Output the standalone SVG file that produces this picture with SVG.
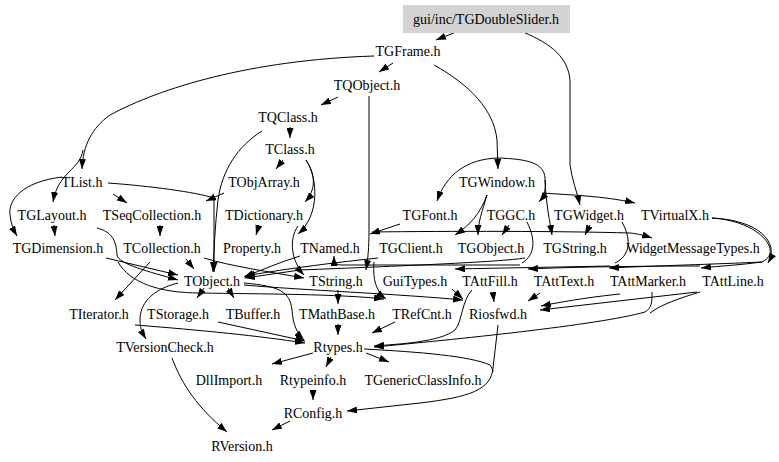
<svg xmlns="http://www.w3.org/2000/svg" width="779" height="462" viewBox="0 0 779 462">
<style>
.t text{font-family:'Liberation Serif','DejaVu Serif',serif;font-size:14px;text-anchor:middle;fill:#000}
.e{fill:none;stroke:#000;stroke-width:1}
.a{marker-end:url(#arr)}
</style>
<defs>
<marker id="arr" viewBox="0 0 10 7" refX="10" refY="3.5" markerWidth="10" markerHeight="7" markerUnits="userSpaceOnUse" orient="auto">
<path d="M0,0 L10,3.5 L0,7 Z" fill="#000"/>
</marker>
</defs>
<rect width="779" height="462" fill="#fff"/>
<g id="edges">
<path class="e a" d="M456,32 L436,40"/>
<path class="e a" d="M523,32 C552,44 568,58 570,80 L570,165 C572,180 577,192 580,205"/>
<path class="e a" d="M393,63 L379,72"/>
<path class="e a" d="M434,65 C470,85 494,110 497,140 L498,169"/>
<path class="e a" d="M498,158 C466,159 446,175 437,201"/>
<path class="e a" d="M498,158 C528,159 544,163 545,178 C546,190 545,195 539,202"/>
<path class="e a" d="M545,180 C546,205 550,222 552,235"/>
<path class="e a" d="M542,193 C570,195 605,196 635,203"/>
<path class="e a" d="M374,56 C250,60 160,88 110,115 C92,128 83,145 82,169"/>
<path class="e a" d="M83,150 C80,170 58,172 53,202"/>
<path class="e a" d="M62,177 C22,182 8,200 10,215 C11,224 13,229 17,236"/>
<path class="e a" d="M338,97 L321,105"/>
<path class="e a" d="M369,96 L369,230 C369,248 368,258 366,270"/>
<path class="e a" d="M290,127 L290,138"/>
<path class="e a" d="M262,131 C238,146 222,170 218,200 C215,225 214,250 213,272"/>
<path class="e a" d="M108,183 C150,186 195,192 214,198 L214,272"/>
<path class="e a" d="M113,194 L127,203"/>
<path class="e a" d="M224,193 L206,201"/>
<path class="e a" d="M283,160 L276,169"/>
<path class="e a" d="M306,160 C316,175 316,190 305,202"/>
<path class="e a" d="M306,160 C318,178 320,215 298,234"/>
<path class="e a" d="M298,226 C288,240 292,262 304,275"/>
<path class="e a" d="M259,225 L256,235"/>
<path class="e a" d="M54,225 L55,236"/>
<path class="e a" d="M160,225 L160,236"/>
<path class="e a" d="M97,228 C112,232 116,240 117,255 C118,264 150,272 178,280"/>
<path class="e a" d="M106,258 L178,275"/>
<path class="e a" d="M186,259 L194,269"/>
<path class="e a" d="M150,262 L115,300"/>
<path class="e a" d="M204,258 C230,266 270,272 304,278"/>
<path class="e a" d="M300,256 C280,262 262,270 244,277"/>
<path class="e a" d="M118,262 C130,283 160,293 200,293 C260,294 340,294 384,299"/>
<path class="e a" d="M204,288 L197,298"/>
<path class="e a" d="M228,288 L234,298"/>
<path class="e a" d="M178,283 C150,290 140,305 140,320 C140,330 143,334 146,339"/>
<path class="e a" d="M244,283 C280,286 290,292 292,310 C293,325 297,333 304,340"/>
<path class="e a" d="M244,285 C300,290 400,294 463,300"/>
<path class="e a" d="M338,290 L338,304"/>
<path class="e a" d="M135,325 C200,330 260,336 305,343"/>
<path class="e a" d="M218,322 L305,341"/>
<path class="e a" d="M338,324 L338,335"/>
<path class="e a" d="M395,322 L372,333"/>
<path class="e a" d="M472,290 C462,300 462,322 455,330 C440,342 400,344 374,346"/>
<path class="e a" d="M652,292 C652,302 652,308 645,312 C600,325 450,340 374,347"/>
<path class="e" d="M700,292 C680,298 660,305 650,313"/>
<path class="e a" d="M697,292 L540,310"/>
<path class="e a" d="M620,294 C600,296 570,300 541,306"/>
<path class="e a" d="M540,293 L528,301"/>
<path class="e a" d="M493,293 L494,302"/>
<path class="e a" d="M452,289 L463,299"/>
<path class="e a" d="M498,325 L493,368 C491,390 470,397 420,403 L347,411"/>
<path class="e" d="M364,349 C420,352 470,356 490,365 C492,368 493,370 493,372"/>
<path class="e a" d="M366,353 L389,362"/>
<path class="e a" d="M313,353 L272,364"/>
<path class="e a" d="M331,357 L326,367"/>
<path class="e a" d="M313,390 L313,400"/>
<path class="e a" d="M290,421 L272,430"/>
<path class="e a" d="M172,358 C182,385 198,408 227,432"/>
<path class="e a" d="M400,224 L370,234"/>
<path class="e a" d="M487,195 C480,214 470,225 455,235"/>
<path class="e a" d="M487,195 C482,212 478,222 478,235"/>
<path class="e a" d="M509,225 L502,235"/>
<path class="e a" d="M590,225 L585,235"/>
<path class="e a" d="M372,232 C450,231 560,231 630,233 C640,234 646,236 652,238"/>
<path class="e" d="M527,222 C536,240 535,255 522,263"/>
<path class="e" d="M622,222 C632,240 630,256 615,263"/>
<path class="e a" d="M712,218 C758,220 780,242 768,263"/>
<path class="e a" d="M712,218 C760,221 784,252 762,262 C740,265 720,266 701,268"/>
<path class="e a" d="M762,262 C720,264 650,266 609,268"/>
<path class="e a" d="M700,266 C640,266 570,267 528,269"/>
<path class="e a" d="M610,266 C560,267 500,268 455,269"/>
<path class="e a" d="M520,265 C460,265 380,265 342,265 C336,265 334,263 334,256"/>
<path class="e a" d="M525,258 C500,262 400,266 300,270 L245,278"/>
<path class="e a" d="M378,258 C340,262 290,268 245,276"/>
<path class="e a" d="M374,262 C373,275 374,290 386,299"/>
</g>
<g class="t" font-family="Liberation Serif, DejaVu Serif, serif">
<g id="n_TGDoubleSlider"><rect x="403" y="5" width="167" height="28" fill="#d3d3d3"/><text x="486" y="24">gui/inc/TGDoubleSlider.h</text></g>
<g id="n_TGFrame"><text x="408" y="56">TGFrame.h</text></g>
<g id="n_TQObject"><text x="367" y="90">TQObject.h</text></g>
<g id="n_TQClass"><text x="288" y="122">TQClass.h</text></g>
<g id="n_TClass"><text x="290" y="154">TClass.h</text></g>
<g id="n_TList"><text x="82" y="187">TList.h</text></g>
<g id="n_TObjArray"><text x="264" y="187">TObjArray.h</text></g>
<g id="n_TGWindow"><text x="497" y="187">TGWindow.h</text></g>
<g id="n_TGLayout"><text x="52" y="220">TGLayout.h</text></g>
<g id="n_TSeqCollection"><text x="152" y="220">TSeqCollection.h</text></g>
<g id="n_TDictionary"><text x="264" y="220">TDictionary.h</text></g>
<g id="n_TGFont"><text x="430" y="220">TGFont.h</text></g>
<g id="n_TGGC"><text x="511" y="220">TGGC.h</text></g>
<g id="n_TGWidget"><text x="589" y="220">TGWidget.h</text></g>
<g id="n_TVirtualX"><text x="675" y="220">TVirtualX.h</text></g>
<g id="n_TGDimension"><text x="58" y="253">TGDimension.h</text></g>
<g id="n_TCollection"><text x="162" y="253">TCollection.h</text></g>
<g id="n_Property"><text x="252" y="253">Property.h</text></g>
<g id="n_TNamed"><text x="330" y="253">TNamed.h</text></g>
<g id="n_TGClient"><text x="411" y="253">TGClient.h</text></g>
<g id="n_TGObject"><text x="491" y="253">TGObject.h</text></g>
<g id="n_TGString"><text x="575" y="253">TGString.h</text></g>
<g id="n_WidgetMessageTypes"><text x="693" y="253">WidgetMessageTypes.h</text></g>
<g id="n_TObject"><text x="212" y="286">TObject.h</text></g>
<g id="n_TString"><text x="336" y="286">TString.h</text></g>
<g id="n_GuiTypes"><text x="415" y="286">GuiTypes.h</text></g>
<g id="n_TAttFill"><text x="490" y="286">TAttFill.h</text></g>
<g id="n_TAttText"><text x="564" y="286">TAttText.h</text></g>
<g id="n_TAttMarker"><text x="648" y="286">TAttMarker.h</text></g>
<g id="n_TAttLine"><text x="733" y="286">TAttLine.h</text></g>
<g id="n_TIterator"><text x="99" y="319">TIterator.h</text></g>
<g id="n_TStorage"><text x="178" y="319">TStorage.h</text></g>
<g id="n_TBuffer"><text x="253" y="319">TBuffer.h</text></g>
<g id="n_TMathBase"><text x="337" y="319">TMathBase.h</text></g>
<g id="n_TRefCnt"><text x="422" y="319">TRefCnt.h</text></g>
<g id="n_Riosfwd"><text x="498" y="319">Riosfwd.h</text></g>
<g id="n_TVersionCheck"><text x="165" y="352">TVersionCheck.h</text></g>
<g id="n_Rtypes"><text x="338" y="352">Rtypes.h</text></g>
<g id="n_DllImport"><text x="229" y="385">DllImport.h</text></g>
<g id="n_Rtypeinfo"><text x="313" y="385">Rtypeinfo.h</text></g>
<g id="n_TGenericClassInfo"><text x="423" y="385">TGenericClassInfo.h</text></g>
<g id="n_RConfig"><text x="313" y="418">RConfig.h</text></g>
<g id="n_RVersion"><text x="242" y="451">RVersion.h</text></g>
</g>
</svg>
